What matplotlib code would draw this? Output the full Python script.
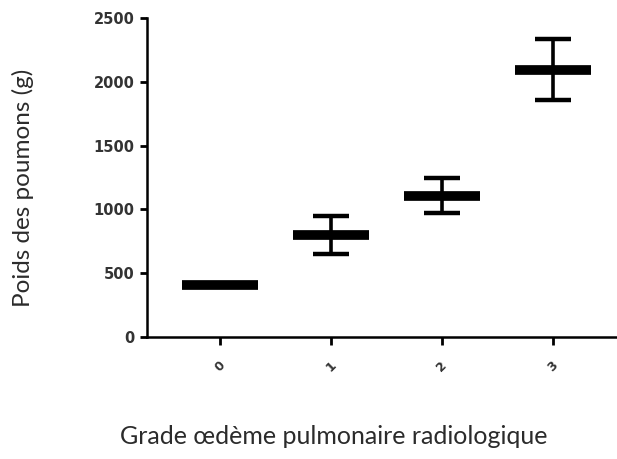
# -*- coding: utf-8 -*
import numpy as np
import matplotlib
matplotlib.use('Agg')
import matplotlib.pyplot as plt

# données
grades = ['0', '1', '2', '3']
moyennes = [405, 800, 1107, 2092]
bas = [405, 650, 969, 1857]
haut = [405, 948, 1248, 2333]
yticks = [0, 500, 1000, 1500, 2000, 2500]

x = np.arange(len(grades))
moy = np.array(moyennes)
err = [moy - np.array(bas), np.array(haut) - moy]

fig = plt.figure(figsize=(6.17, 4.59), dpi=100)
ax = fig.add_axes([0.238, 0.266, 0.77, 0.695])

# barres d'erreur puis trait de la moyenne
ax.errorbar(x, moy, yerr=err, fmt='none', ecolor='black',
            elinewidth=2.6, capsize=13, capthick=3.2, zorder=2)
ax.hlines(moy, x - 0.34, x + 0.34, colors='black', linewidth=7, zorder=3)

# axes
ax.set_xlim(-0.66, 3.62)
ax.set_ylim(0, 2500)
ax.set_xticks(x)
ax.set_xticklabels(grades, rotation=45, fontsize=9, fontweight='bold', color='#333333')
ax.set_yticks(yticks)
ax.set_yticklabels([str(v) for v in yticks], fontsize=10.5, fontweight='bold', color='#333333')
ax.tick_params(axis='x', length=6, width=2, pad=10)
ax.tick_params(axis='y', length=5, width=2, pad=4)
for s in ['top', 'right']:
    ax.spines[s].set_visible(False)
for s in ['left', 'bottom']:
    ax.spines[s].set_linewidth(1.8)

# titres des axes
fig.text(0.037, 0.59, 'Poids des poumons (g)', rotation=90, ha='center', va='center',
         fontsize=17.5, family='Lato', color='#2b2b2b')
fig.text(0.541, 0.048, 'Grade œdème pulmonaire radiologique', ha='center', va='center',
         fontsize=18, family='Lato', color='#2b2b2b')

plt.savefig('out.png', dpi=100)
